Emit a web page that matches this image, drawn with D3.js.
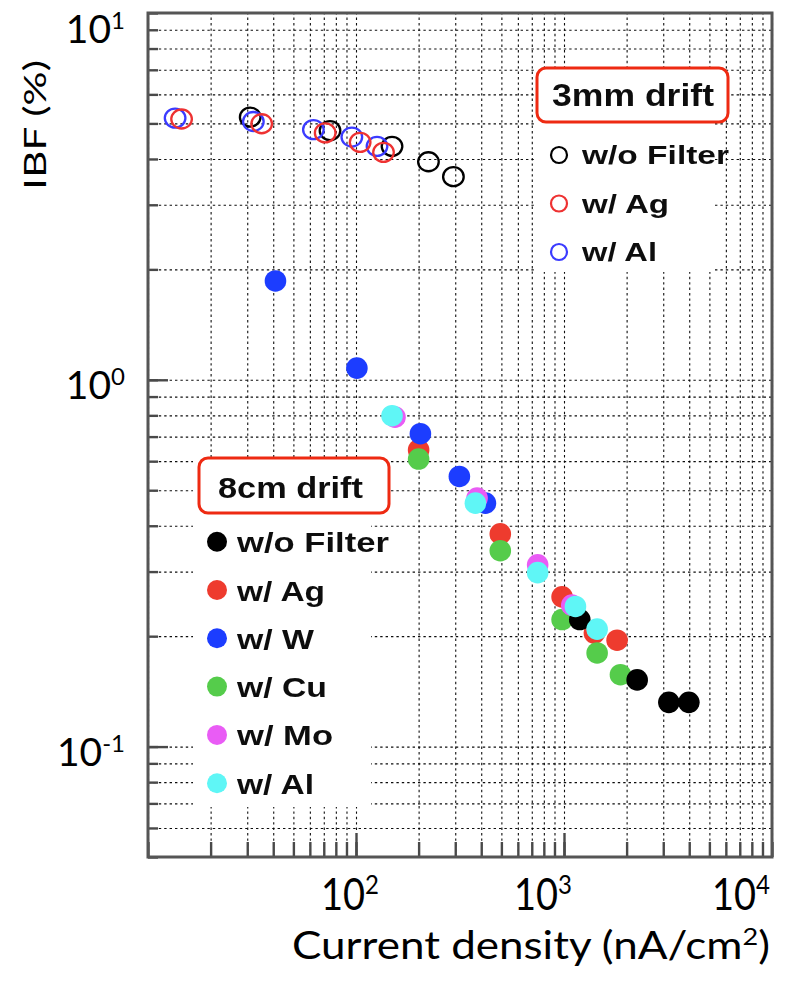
<!DOCTYPE html>
<html>
<head>
<meta charset="utf-8">
<script src="https://cdn.jsdelivr.net/npm/d3@7"></script>
<style>
  html, body { margin: 0; padding: 0; background: #fff; }
  svg { display: block; }
</style>
</head>
<body>
<svg id="chart" width="803" height="982"></svg>
<script>
// ---- data: 3 mm drift gap (open markers) ----
const drift3Title = "3mm drift";
const drift3Labels = ["w/o Filter", "w/ Ag", "w/ Al"];
const drift3NoFilterX = [31, 75, 149, 223, 294];
const drift3NoFilterY = [5.20, 4.78, 4.33, 3.93, 3.58];
const drift3AgX = [14.5, 35.2, 71.1, 104.7, 135.6];
const drift3AgY = [5.14, 4.99, 4.71, 4.44, 4.17];
const drift3AlX = [13.5, 32.1, 62.4, 95.5, 126.2];
const drift3AlY = [5.17, 5.06, 4.81, 4.59, 4.33];

// ---- data: 8 cm drift gap (filled markers) ----
const drift8Title = "8cm drift";
const drift8Labels = ["w/o Filter", "w/ Ag", "w/ W", "w/ Cu", "w/ Mo", "w/ Al"];
const drift8NoFilterX = [1191, 2248, 3192, 3984];
const drift8NoFilterY = [0.222, 0.152, 0.132, 0.132];
const drift8AgX = [200, 494, 979, 1400, 1800];
const drift8AgY = [0.644, 0.380, 0.256, 0.204, 0.195];
const drift8WX = [41, 101, 204, 314, 419];
const drift8WY = [1.86, 1.076, 0.713, 0.545, 0.461];
const drift8CuX = [200, 494, 979, 1443, 1868];
const drift8CuY = [0.608, 0.342, 0.222, 0.180, 0.157];
const drift8MoX = [154, 382, 747, 1090];
const drift8MoY = [0.791, 0.476, 0.313, 0.243];
const drift8AlX = [149, 375, 747, 1135, 1443];
const drift8AlY = [0.798, 0.461, 0.298, 0.241, 0.209];

// ---- axes ----
const xDomain = [10, 10000];
const yDomain = [0.05, 10];
const xLabelExponents = [2, 3, 4];
const yLabelExponents = [1, 0, -1];
const xTitle = "Current density (nA/cm";
const xTitleSup = "2";
const yTitle = "IBF (%)";

// ---- layout / styling ----
const plot = { left: 148, right: 772, top: 13, bottom: 857 };
const labelFont = "Lato, 'Open Sans', sans-serif";
const legendFont = "'Liberation Sans', Arial, sans-serif";
const colors = {
  black: "#000000", red: "#ee3a2e", blue: "#1e3cff",
  green: "#55cc4c", magenta: "#e95cf5", cyan: "#5ef6f6",
  openRed: "#ee3030", openBlue: "#3a3aff", box: "#ee2a12"
};

const svg = d3.select("#chart");
const x = d3.scaleLog().domain(xDomain).range([plot.left, plot.right]);
const y = d3.scaleLog().domain(yDomain).range([plot.bottom, plot.top]);
const zip = (xs, ys) => xs.map((v, i) => [v, ys[i]]);

// soft focus on the plotted figure
const defs = svg.append("defs");
defs.append("filter").attr("id", "soft")
  .attr("x", "-5%").attr("y", "-5%").attr("width", "110%").attr("height", "110%")
  .append("feGaussianBlur").attr("stdDeviation", 0.6);

const fig = svg.append("g").attr("filter", "url(#soft)");

// plot background
fig.append("rect")
  .attr("x", plot.left).attr("y", plot.top)
  .attr("width", plot.right - plot.left).attr("height", plot.bottom - plot.top)
  .attr("fill", "#fff");

// dotted grid on every decade subdivision
const styleGrid = s => {
  s.select(".domain").remove();
  s.selectAll(".tick line")
    .attr("stroke", "#000").attr("stroke-width", 1.1)
    .attr("stroke-dasharray", "2.4,3").attr("opacity", 0.95);
};
fig.append("g")
  .attr("transform", `translate(0,${plot.bottom})`)
  .call(d3.axisBottom(x).tickSize(-(plot.bottom - plot.top)).tickFormat(""))
  .call(styleGrid);
fig.append("g")
  .attr("transform", `translate(${plot.left},0)`)
  .call(d3.axisLeft(y).tickSize(-(plot.right - plot.left)).tickFormat(""))
  .call(styleGrid);

// white legend panels (cover the grid)
const legend3Panel = { x: 536, y: 68, w: 178, h: 204 };
const legend8Panel = { x: 193, y: 458, w: 178, h: 349 };
[legend3Panel, legend8Panel].forEach(p => {
  fig.append("rect").attr("x", p.x).attr("y", p.y)
    .attr("width", p.w).attr("height", p.h).attr("fill", "#fff");
});
const box3 = { x: 537, y: 68, w: 191, h: 54 };
const box8 = { x: 199, y: 458, w: 190, h: 55 };
[box3, box8].forEach(b => {
  fig.append("rect").attr("x", b.x).attr("y", b.y)
    .attr("width", b.w).attr("height", b.h).attr("rx", 9).attr("fill", "#fff");
});

// inward ticks on bottom and left frame
const styleTicks = s => {
  s.select(".domain").remove();
  s.selectAll(".tick line").attr("stroke", "#4a4a4a").attr("stroke-width", 2.4);
};
const majorX = xLabelExponents.map(e => Math.pow(10, e)).filter(v => v < xDomain[1]);
const majorY = yLabelExponents.map(e => Math.pow(10, e)).filter(v => v < yDomain[1]);
fig.append("g").attr("transform", `translate(0,${plot.bottom})`)
  .call(d3.axisBottom(x).tickSize(-15).tickFormat("")).call(styleTicks);
fig.append("g").attr("transform", `translate(0,${plot.bottom})`)
  .call(d3.axisBottom(x).tickValues(majorX).tickSize(-24).tickFormat("")).call(styleTicks);
fig.append("g").attr("transform", `translate(${plot.left},0)`)
  .call(d3.axisLeft(y).tickSize(-10).tickFormat("")).call(styleTicks);
fig.append("g").attr("transform", `translate(${plot.left},0)`)
  .call(d3.axisLeft(y).tickValues(majorY).tickSize(-20).tickFormat("")).call(styleTicks);

// frame
fig.append("rect")
  .attr("x", plot.left).attr("y", plot.top)
  .attr("width", plot.right - plot.left).attr("height", plot.bottom - plot.top)
  .attr("fill", "none").attr("stroke", "#555").attr("stroke-width", 3);

// ---- markers ----
const openR = 9.5, filledR = 10.8;
const openSeries = [
  { pts: zip(drift3NoFilterX, drift3NoFilterY), color: colors.black },
  { pts: zip(drift3AlX, drift3AlY), color: colors.openBlue },
  { pts: zip(drift3AgX, drift3AgY), color: colors.openRed }
];
openSeries.forEach(s => {
  fig.append("g").selectAll("ellipse").data(s.pts).join("ellipse")
    .attr("cx", d => x(d[0])).attr("cy", d => y(d[1]))
    .attr("rx", openR + 0.8).attr("ry", openR).attr("fill", "none")
    .attr("stroke", s.color).attr("stroke-width", 2.3);
});

const filledSeries = [
  { pts: zip(drift8AgX, drift8AgY), color: colors.red },
  { pts: zip(drift8CuX, drift8CuY), color: colors.green },
  { pts: zip(drift8NoFilterX, drift8NoFilterY), color: colors.black },
  { pts: zip(drift8WX, drift8WY), color: colors.blue },
  { pts: zip(drift8MoX, drift8MoY), color: colors.magenta },
  { pts: zip(drift8AlX, drift8AlY), color: colors.cyan }
];
filledSeries.forEach(s => {
  fig.append("g").selectAll("circle").data(s.pts).join("circle")
    .attr("cx", d => x(d[0])).attr("cy", d => y(d[1]))
    .attr("r", filledR).attr("fill", s.color);
});

// ---- legends ----
// 3 mm drift
fig.append("text").attr("x", 552).attr("y", 106)
  .attr("font-family", legendFont).attr("font-weight", "bold")
  .attr("font-size", 31).attr("fill", "#111")
  .attr("textLength", 162).attr("lengthAdjust", "spacingAndGlyphs")
  .text(drift3Title);
const legend3Colors = [colors.black, colors.openRed, colors.openBlue];
const legend3Widths = [147, 87, 75];
drift3Labels.forEach((lab, i) => {
  const cy = 155 + i * 48.5;
  fig.append("circle").attr("cx", 559).attr("cy", cy).attr("r", 8)
    .attr("fill", "none").attr("stroke", legend3Colors[i]).attr("stroke-width", 2.2);
  fig.append("text").attr("x", 582).attr("y", cy + 9)
    .attr("font-family", legendFont).attr("font-weight", "bold")
    .attr("font-size", 25).attr("fill", "#111")
    .attr("textLength", legend3Widths[i]).attr("lengthAdjust", "spacingAndGlyphs")
    .text(lab);
});

// 8 cm drift
fig.append("text").attr("x", 218).attr("y", 498)
  .attr("font-family", legendFont).attr("font-weight", "bold")
  .attr("font-size", 30).attr("fill", "#111")
  .attr("textLength", 145).attr("lengthAdjust", "spacingAndGlyphs")
  .text(drift8Title);
const legend8Colors = [colors.black, colors.red, colors.blue, colors.green, colors.magenta, colors.cyan];
const legend8Widths = [152, 88, 77, 90, 96, 77];
drift8Labels.forEach((lab, i) => {
  const cy = 541.7 + i * 48.3;
  fig.append("circle").attr("cx", 217).attr("cy", cy).attr("r", 10)
    .attr("fill", legend8Colors[i]);
  fig.append("text").attr("x", 237).attr("y", cy + 10.5)
    .attr("font-family", legendFont).attr("font-weight", "bold")
    .attr("font-size", 28).attr("fill", "#111")
    .attr("textLength", legend8Widths[i]).attr("lengthAdjust", "spacingAndGlyphs")
    .text(lab);
});

// red annotation frames around legend titles
[box3, box8].forEach(b => {
  svg.append("rect").attr("x", b.x).attr("y", b.y)
    .attr("width", b.w).attr("height", b.h).attr("rx", 9)
    .attr("fill", "none").attr("stroke", colors.box).attr("stroke-width", 3);
});

// ---- tick labels ----
// y axis: 10^1, 10^0, 10^-1 right-aligned beside the frame
yLabelExponents.forEach(e => {
  const base = Math.max(y(Math.pow(10, e)) + 19, 43);
  const t = svg.append("text").attr("x", 125).attr("y", base)
    .attr("text-anchor", "end").attr("font-family", labelFont)
    .attr("font-size", 39).attr("fill", "#000");
  t.append("tspan").text("10");
  t.append("tspan").attr("dy", -14).attr("font-size", 24).text(String(e));
});

// x axis: 10^2, 10^3, 10^4 below the frame
const xLabelShift = [-6, -21, -31];
xLabelExponents.forEach((e, i) => {
  const cx = x(Math.pow(10, e)) + xLabelShift[i];
  const g = svg.append("g").attr("transform", `translate(${cx},910) scale(1,1.15)`);
  const t = g.append("text").attr("x", 0).attr("y", 0)
    .attr("text-anchor", "middle").attr("font-family", labelFont)
    .attr("font-size", 38).attr("fill", "#000");
  t.append("tspan").text("10");
  t.append("tspan").attr("dy", -14).attr("font-size", 24).text(String(e));
});

// axis titles
const xt = svg.append("text").attr("x", 292).attr("y", 959)
  .attr("font-family", labelFont).attr("font-size", 39).attr("fill", "#000")
  .attr("textLength", 478).attr("lengthAdjust", "spacingAndGlyphs");
xt.append("tspan").text(xTitle);
xt.append("tspan").attr("dy", -14).attr("font-size", 24).text(xTitleSup);
xt.append("tspan").attr("dy", 14).text(")");

svg.append("text")
  .attr("transform", "translate(46,190) rotate(-90)")
  .attr("font-family", labelFont).attr("font-size", 30).attr("fill", "#000")
  .attr("textLength", 130).attr("lengthAdjust", "spacingAndGlyphs")
  .text(yTitle);
</script>
</body>
</html>
